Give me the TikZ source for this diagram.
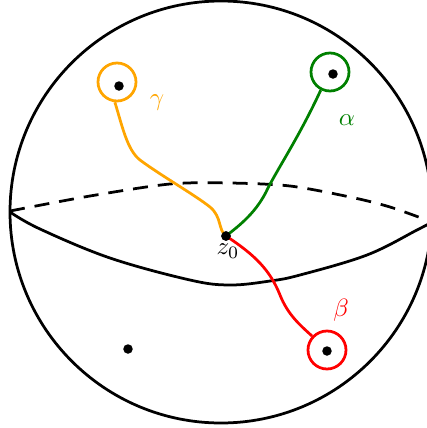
\documentclass[tikz,border=0pt]{standalone}
\definecolor{myorange}{RGB}{255,165,0}
\definecolor{mygreen}{RGB}{0,128,0}
\begin{document}
\begin{tikzpicture}[x=0.4pt,y=-0.4pt,
  dot/.style={circle,fill=black,inner sep=0pt,minimum size=3.8pt},
  ring/.style={circle,draw=#1,line width=1.1pt,inner sep=0pt,minimum size=15.2pt},
  path/.style={line width=1.1pt,#1},
  sph/.style={line width=1.1pt,black}]
\useasboundingbox (0,0) rectangle (427,428);
% sphere
\draw[sph] (221,212) circle [radius=211];
\draw[sph,dash pattern=on 6pt off 4pt] plot[smooth] coordinates {(10,211) (90,196) (170,184) (230,183) (290,186) (350,197) (390,207) (432,222)};
\draw[sph] plot[smooth,tension=0.6] coordinates {(10,212) (40,229) (110,258) (190,280) (230,285) (270,281) (300,275) (367,255) (417,230) (434,221)};
% rings
\node[ring=myorange] (gc) at (117,82) {};
\node[ring=mygreen] (ac) at (330,72) {};
\node[ring=red] (bc) at (327,350) {};
\node[dot] (gd) at (119,86) {};
\node[dot] (ad) at (333,74) {};
\node[dot] (bd) at (327,351) {};
\node[dot] (pd) at (128,349) {};
\node[dot] (z0) at (226,236) {};
\node (z0l) at (228,251) {$z_0$};
% paths
\draw[path=myorange] (gc.264) .. controls (122,125) and (127,150) .. (140,160) .. controls (160,175) and (195,195) .. (210,207) .. controls (222,217) and (218,230) .. (z0.center);
\draw[path=mygreen] (ac.243) .. controls (300,135) and (280,165) .. (268,188) .. controls (257,212) and (240,225) .. (z0.center);
\draw[path=red] (z0.center) .. controls (255,255) and (270,270) .. (280,295) .. controls (288,315) and (300,325) .. (bc.137);
\node[dot] at (z0) {};
% labels
\node[text=myorange] (gl) at (157,103) {$\gamma$};
\node[text=mygreen] (al) at (347,120) {$\alpha$};
\node[text=red] (bl) at (341,310) {$\beta$};
\end{tikzpicture}
\end{document}
